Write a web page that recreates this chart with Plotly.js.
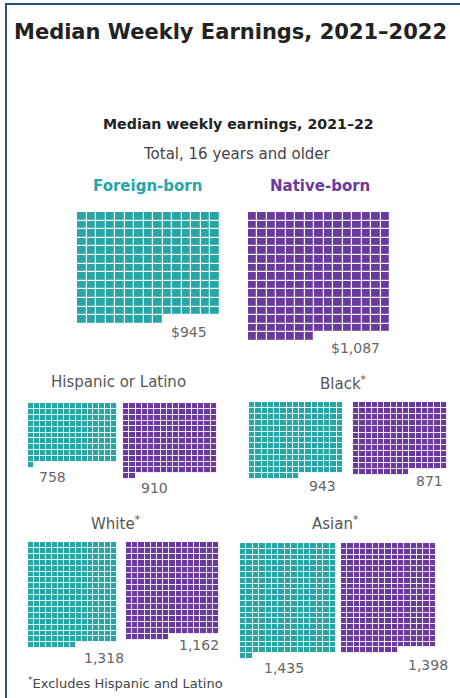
<!DOCTYPE html>
<html>
<head>
<meta charset="utf-8">
<script src="https://cdn.plot.ly/plotly-3.0.1.min.js"></script>
<style>html,body{margin:0;padding:0;background:#fff;}#chart{width:460px;height:698px;}</style>
</head>
<body>
<div id="chart"></div>
<script>
// ---- data ----
const categories = ["Total, 16 years and older", "Hispanic or Latino", "Black<sup>*</sup>", "White<sup>*</sup>", "Asian<sup>*</sup>"];
const groups = ["Foreign-born", "Native-born"];
const foreignBorn = [945, 758, 943, 1318, 1435];
const nativeBorn = [1087, 910, 871, 1162, 1398];
const foreignLabels = ["$945", "758", "943", "1,318", "1,435"];
const nativeLabels = ["$1,087", "910", "871", "1,162", "1,398"];
const dollarsPerSquare = 5;
const columns = 15;

// ---- layout (pixel positions) ----
const TEAL = "#26a7a5", PURPLE = "#6a3a9f";
const FONT = "DejaVu Sans, sans-serif";
const panelPos = [
  {f: {left: 77, top: 212, cw: 9.53, ch: 8.6, lx: 169, ly: 332}, n: {left: 248, top: 212, cw: 9.47, ch: 8.6, lx: 329, ly: 348}, tx: 237, ty: 154},
  {f: {left: 28, top: 403, cw: 5.95, ch: 5.9, lx: 37, ly: 477}, n: {left: 123, top: 403, cw: 6.25, ch: 5.85, lx: 139, ly: 488}, tx: 118, ty: 382},
  {f: {left: 249, top: 402, cw: 6.25, ch: 5.9, lx: 307, ly: 486}, n: {left: 353, top: 402, cw: 6.25, ch: 6.1, lx: 414, ly: 481}, tx: 343, ty: 383},
  {f: {left: 28, top: 542, cw: 5.95, ch: 5.9, lx: 82, ly: 658}, n: {left: 126, top: 542, cw: 6.2, ch: 6.15, lx: 177, ly: 645}, tx: 115, ty: 523},
  {f: {left: 240, top: 543, cw: 6.4, ch: 5.8, lx: 262, ly: 668}, n: {left: 341, top: 543, cw: 6.33, ch: 5.8, lx: 406, ly: 665}, tx: 335, ty: 523}
];

function waffle(value, pos, color, big) {
  const n = Math.floor(value / dollarsPerSquare);
  const rows = Math.ceil(n / columns);
  const z = [];
  for (let r = 0; r < rows; r++) {
    const row = [];
    for (let c = 0; c < columns; c++) row.push(r * columns + c < n ? 1 : null);
    z.push(row);
  }
  return {
    type: "heatmap", z: z,
    x0: pos.left + pos.cw / 2, dx: pos.cw,
    y0: pos.top + pos.ch / 2, dy: pos.ch,
    colorscale: [[0, color], [1, color]], zmin: 0, zmax: 1,
    showscale: false, hoverinfo: "skip",
    xgap: big ? 1.2 : 0.9, ygap: big ? 1.2 : 0.9
  };
}

const traces = [];
const annotations = [];
const labelFont = {family: FONT, size: 14, color: "#666"};
for (let i = 0; i < categories.length; i++) {
  const p = panelPos[i];
  traces.push(waffle(foreignBorn[i], p.f, TEAL, i === 0));
  traces.push(waffle(nativeBorn[i], p.n, PURPLE, i === 0));
  annotations.push({x: p.f.lx, y: p.f.ly, xref: "x", yref: "y", text: foreignLabels[i], showarrow: false, xanchor: "left", yanchor: "middle", font: labelFont});
  annotations.push({x: p.n.lx, y: p.n.ly, xref: "x", yref: "y", text: nativeLabels[i], showarrow: false, xanchor: "left", yanchor: "middle", font: labelFont});
  annotations.push({x: p.tx, y: p.ty, xref: "x", yref: "y", text: categories[i], showarrow: false, xanchor: "center", yanchor: "middle",
    font: {family: FONT, size: 15, color: i === 0 ? "#444" : "#555"}});
}
annotations.push({x: 238, y: 124, xref: "x", yref: "y", text: "Median weekly earnings, 2021–22", showarrow: false, xanchor: "center", yanchor: "middle",
  font: {family: FONT, size: 14.2, color: "#222", weight: 700}});
annotations.push({x: 147, y: 186, xref: "x", yref: "y", text: groups[0], showarrow: false, xanchor: "center", yanchor: "middle",
  font: {family: FONT, size: 15, color: TEAL, weight: 700}});
annotations.push({x: 320, y: 186, xref: "x", yref: "y", text: groups[1], showarrow: false, xanchor: "center", yanchor: "middle",
  font: {family: FONT, size: 15, color: PURPLE, weight: 700}});
annotations.push({x: 26, y: 683, xref: "x", yref: "y", text: "<sup>*</sup>Excludes Hispanic and Latino", showarrow: false, xanchor: "left", yanchor: "middle",
  font: {family: FONT, size: 13, color: "#444"}});

const hidden = {visible: false, fixedrange: true, showgrid: false, zeroline: false};
const layout = {
  width: 460, height: 698,
  margin: {l: 0, r: 0, t: 0, b: 0},
  paper_bgcolor: "#fff", plot_bgcolor: "#fff",
  title: {text: "Median Weekly Earnings, 2021–2022", x: 14 / 460, xanchor: "left", xref: "paper", y: 1 - 32 / 698, yref: "paper", yanchor: "middle",
    font: {family: FONT, size: 21, color: "#222", weight: 700}},
  xaxis: Object.assign({range: [0, 460], domain: [0, 1]}, hidden),
  yaxis: Object.assign({range: [698, 0], domain: [0, 1]}, hidden),
  annotations: annotations,
  shapes: [
    {type: "line", xref: "x", yref: "y", x0: 5, x1: 460, y0: 4, y1: 4, line: {color: "#2c4e7e", width: 2}},
    {type: "line", xref: "x", yref: "y", x0: 6, x1: 6, y0: 4, y1: 698, line: {color: "#2c4e7e", width: 2}}
  ],
  showlegend: false
};
Plotly.newPlot("chart", traces, layout, {staticPlot: true, displayModeBar: false});
</script>
</body>
</html>
